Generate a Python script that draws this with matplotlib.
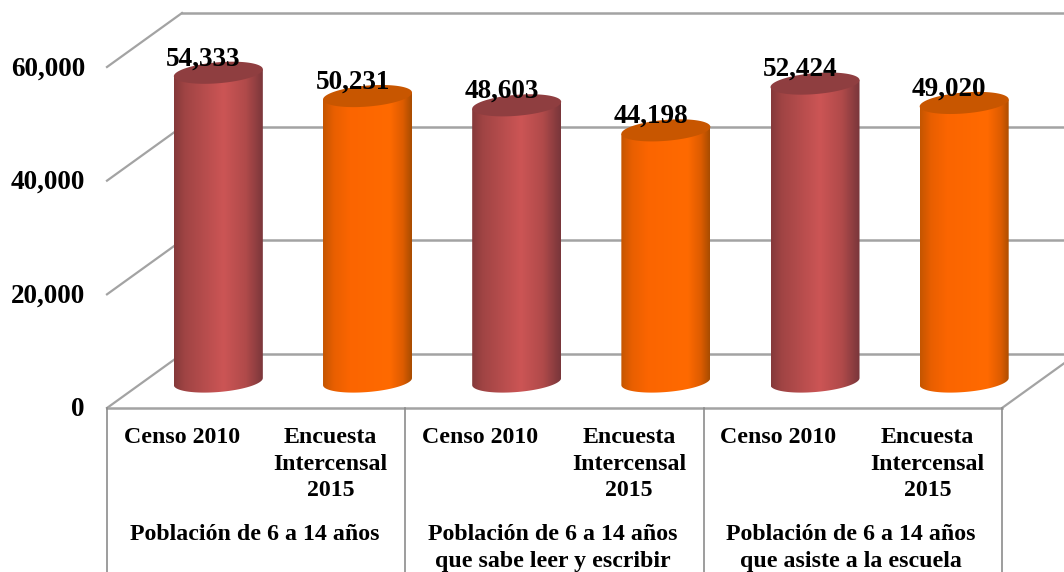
import numpy as np
import matplotlib
matplotlib.use("Agg")
import matplotlib.pyplot as plt
from matplotlib.colors import LinearSegmentedColormap
from matplotlib.patches import Polygon

# values
values = [54333, 50231, 48603, 44198, 52424, 49020]
bar_labels = ["54,333", "50,231", "48,603", "44,198", "52,424", "49,020"]
categories = ["Censo 2010", "Encuesta\nIntercensal\n2015"] * 3
groups = [
    "Población de 6 a 14 años",
    "Población de 6 a 14 años\nque sabe leer y escribir",
    "Población de 6 a 14 años\nque asiste a la escuela",
]
yticks = [0, 20000, 40000, 60000]
ytick_labels = ["0", "20,000", "40,000", "60,000"]

# geometry, in pixels of the 1064x572 picture
W, H = 1064, 572
X0, Y0 = 107, 408
PX_CAT = 149.17
PX_UNIT = 341 / 60000
DEPTH_X = 75 / PX_CAT
DEPTH_Y = 54 / PX_UNIT
MID = 0.49
GRAY = "#a3a3a3"

plt.rcParams["font.family"] = ["Liberation Serif", "DejaVu Serif"]
plt.rcParams["font.weight"] = "bold"

fig = plt.figure(figsize=(W / 100, H / 100), dpi=100)
ax = fig.add_axes([0, 0, 1, 1])
ax.set_axis_off()
xlim = (-X0 / PX_CAT, (W - X0) / PX_CAT)
ylim = (-(H - Y0) / PX_UNIT, Y0 / PX_UNIT)


def px_y(p):
    # picture row below the floor line -> data y
    return (Y0 - p) / PX_UNIT


# walls and floor
xmax = xlim[1]
for t in yticks:
    ax.plot([0, DEPTH_X], [t, t + DEPTH_Y], color=GRAY, lw=1.6, zorder=1)
    ax.plot([DEPTH_X, xmax], [t + DEPTH_Y, t + DEPTH_Y], color=GRAY, lw=1.8, zorder=1)
ax.plot([6, 6 + DEPTH_X], [0, DEPTH_Y], color=GRAY, lw=1.6, zorder=1)
ax.plot([0, 6], [0, 0], color=GRAY, lw=1.8, zorder=1)
for x in [0, 2, 4, 6]:
    ax.plot([x, x], [0, ylim[0]], color="#8c8c8c", lw=1.2, zorder=1)

# cylinders
cmap_red = LinearSegmentedColormap.from_list(
    "red", [(0, "#85393a"), (0.12, "#a04444"), (0.55, "#cc5555"), (0.8, "#b04a4a"), (1, "#78363a")])
cmap_orange = LinearSegmentedColormap.from_list(
    "orange", [(0, "#c45500"), (0.12, "#e85f00"), (0.3, "#fb6500"), (0.75, "#ff6a00"),
               (0.9, "#dd5c00"), (1, "#a84c00")])
half = 44.5 / PX_CAT
minor = 10.5 / PX_UNIT
tilt = 3.5 / PX_UNIT
t = np.linspace(0, 2 * np.pi, 120)
grad = np.linspace(0, 1, 256).reshape(1, -1)

for i, v in enumerate(values):
    xc = i + 0.5 + MID * DEPTH_X
    base = MID * DEPTH_Y
    top = base + v
    red = i % 2 == 0
    ex = xc + half * np.cos(t)
    ey = minor * np.sin(t) + tilt * np.cos(t)
    # side outline: lower half of the base ellipse and upper edge of the top one
    low = t[(t >= np.pi)]
    lx = xc + half * np.cos(low)
    ly = base + minor * np.sin(low) + tilt * np.cos(low)
    side = Polygon(np.column_stack([np.r_[lx, xc + half, xc - half],
                                    np.r_[ly, top + tilt, top - tilt]]),
                   closed=True, transform=ax.transData, facecolor="none", edgecolor="none")
    ax.add_patch(side)
    im = ax.imshow(grad, cmap=cmap_red if red else cmap_orange, aspect="auto", zorder=2,
                   extent=[xc - half, xc + half, base - 2 * minor, top + 2 * minor],
                   interpolation="bilinear")
    im.set_clip_path(side)
    ax.fill(ex, top + ey, color="#8f3e40" if red else "#c85600", zorder=3, lw=0)
    ax.annotate(bar_labels[i], (xc, top), xytext=(-15, 14), textcoords="offset pixels",
                ha="center", va="center", fontsize=19.5, zorder=4)

# tick labels
for t_val, lab in zip(yticks, ytick_labels):
    ax.annotate(lab, (0, t_val), xytext=(-22, -2), textcoords="offset pixels",
                ha="right", va="center", fontsize=19.5)

# category and group labels
for i, c in enumerate(categories):
    ax.text(i + 0.5, px_y(427), c, ha="center", va="top", fontsize=17.2, linespacing=1.35)
for i, g in enumerate(groups):
    ax.text(2 * i + 1 - 0.012, px_y(524), g, ha="center", va="top", fontsize=17.2, linespacing=1.35)

ax.set_xlim(xlim)
ax.set_ylim(ylim)
fig.savefig("out.png", dpi=100)
